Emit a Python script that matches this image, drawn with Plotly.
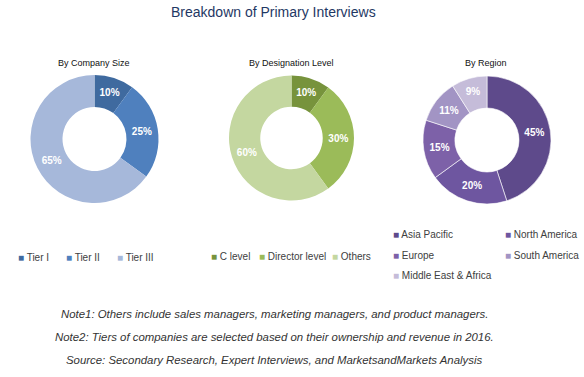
import plotly.graph_objects as go

W, H = 584, 377

title_text = "Breakdown of Primary Interviews"

size_labels = ["Tier I", "Tier II", "Tier III"]
size_values = [10, 25, 65]
size_colors = ["#3F6A9F", "#4F80BE", "#A6B8DA"]

desig_labels = ["C level", "Director level", "Others"]
desig_values = [10, 30, 60]
desig_colors = ["#77933C", "#9BBB59", "#C4D7A0"]

region_labels = ["Asia Pacific", "North America", "Europe", "South America", "Middle East & Africa"]
region_values = [45, 20, 15, 11, 9]
region_colors = ["#5E4A8B", "#6E56A0", "#7D61A8", "#A294C4", "#C5BCD9"]

subtitles = ["By Company Size", "By Designation Level", "By Region"]
notes = [
    "Note1: Others include sales managers, marketing managers, and product managers.",
    "Note2: Tiers of companies are selected based on their ownership and revenue in 2016.",
    "Source: Secondary Research, Expert Interviews, and MarketsandMarkets Analysis",
]


def dom(cx, cy, r):
    return dict(x=[(cx - r) / W, (cx + r) / W], y=[(H - cy - r) / H, (H - cy + r) / H])


FONT = "Liberation Sans, Arial, sans-serif"

fig = go.Figure()
pies = [
    (size_labels, size_values, size_colors, dom(94.5, 139, 64), 0),
    (desig_labels, desig_values, desig_colors, dom(291.5, 138, 62.5), 0),
    (region_labels, region_values, region_colors, dom(487, 140, 64), 0.6),
]
for labels, values, colors, d, lw in pies:
    fig.add_trace(go.Pie(
        labels=labels, values=values, hole=0.5, sort=False, direction="clockwise",
        rotation=0, domain=d, showlegend=False,
        marker=dict(colors=colors, line=dict(color="white", width=lw)),
        texttemplate="%{value}%", textposition="inside", insidetextorientation="horizontal",
        textfont=dict(family=FONT, size=10, color="white", weight="bold"),
        automargin=False, hoverinfo="label+value",
    ))


def ann(text, x, y, size, color, family=FONT, xanchor="center"):
    return dict(text=text, x=x / W, y=1 - y / H, xref="paper", yref="paper",
                xanchor=xanchor, yanchor="middle", showarrow=False,
                font=dict(family=family, size=size, color=color))


annotations = [ann(title_text, 273, 12, 14, "#1F3864",
                   family="Liberation Sans Narrow, Arial Narrow, Liberation Sans, Arial")]
for t, cx in zip(subtitles, [94, 291, 486]):
    annotations.append(ann(t, cx, 63, 9, "#111111"))
for t, cy in zip(notes, [314, 337, 360]):
    annotations.append(ann("<i>" + t + "</i>", 274, cy, 11.4, "#333333"))

# legend entries (square marker + label)
legend_pos = {
    0: [(16, 257), (64, 257), (115, 257)],
    1: [(209, 256), (257, 256), (330, 256)],
    2: [(391, 235), (503, 235), (391, 255), (503, 255), (391, 275)],
}
for i, (labels, colors) in enumerate([(size_labels, size_colors), (desig_labels, desig_colors),
                                      (region_labels, region_colors)]):
    for lab, col, (x, y) in zip(labels, colors, legend_pos[i]):
        annotations.append(ann(f"<span style='color:{col}'>■</span> {lab}", x, y, 10, "#404040",
                               xanchor="left"))

fig.update_layout(
    width=W, height=H, margin=dict(l=0, r=0, t=0, b=0),
    paper_bgcolor="white", plot_bgcolor="white",
    showlegend=False,
    annotations=annotations,
)

fig.write_html("out.html", config={"displayModeBar": False},
               post_script="document.body.style.margin='0px';")
